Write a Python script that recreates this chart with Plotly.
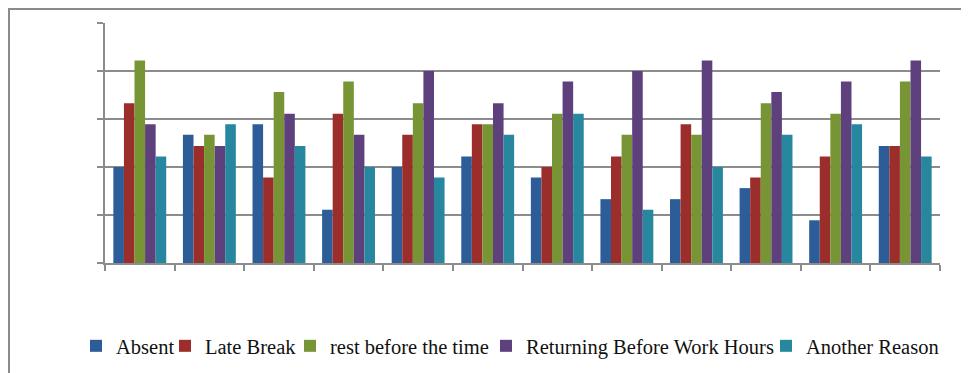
import plotly.graph_objects as go

categories = ["1", "2", "3", "4", "5", "6", "7", "8", "9", "10", "11", "12"]
absent = [20.0, 26.7, 28.9, 11.1, 20.0, 22.2, 17.8, 13.3, 13.3, 15.6, 8.9, 24.4]
late_break = [33.3, 24.4, 17.8, 31.1, 26.7, 28.9, 20.0, 22.2, 28.9, 17.8, 22.2, 24.4]
rest_before = [42.2, 26.7, 35.6, 37.8, 33.3, 28.9, 31.1, 26.7, 26.7, 33.3, 31.1, 37.8]
returning = [28.9, 24.4, 31.1, 26.7, 40.0, 33.3, 37.8, 40.0, 42.2, 35.6, 37.8, 42.2]
another = [22.2, 28.9, 24.4, 20.0, 17.8, 26.7, 31.1, 11.1, 20.0, 26.7, 28.9, 22.2]

series = [
    ("Absent", absent, "#2C5D98", 44),
    ("Late Break", late_break, "#9B2D2A", 80),
    ("rest before the time", rest_before, "#779535", 151),
    ("Returning Before Work Hours", returning, "#5E407C", 235),
    ("Another Reason", another, "#27879F", 136),
]

fig = go.Figure()
for name, vals, col, lw in series:
    fig.add_trace(go.Bar(x=categories, y=vals, name=name, marker_color=col,
                         marker_line_width=0, legendwidth=lw))

# page body has an 8px margin, so the figure is drawn 8px in from the window edge
OFF = 8
W, H = 969 - OFF, 373 - OFF
L, T = 105 - OFF, 23 - OFF
R = W - (940 - OFF)
B = H - (263 - OFF)
pw, ph = W - L - R, H - T - B

def px(x):
    return (x - OFF - L) / pw

def py(y):
    return (H - B - (y - OFF)) / ph

fig.update_layout(
    width=W, height=H,
    margin=dict(l=L, r=R, t=T, b=B, pad=0, autoexpand=False),
    paper_bgcolor="white", plot_bgcolor="white",
    barmode="group", bargap=0.24, bargroupgap=0,
    font=dict(family="Liberation Serif, Times New Roman, serif", size=20.5, color="#111111"),
    showlegend=True,
    legend=dict(orientation="h", xref="paper", yref="paper",
                x=px(76), y=py(346), xanchor="left", yanchor="middle",
                font=dict(size=20.5), itemwidth=30, bgcolor="rgba(0,0,0,0)",
                tracegroupgap=0),
    xaxis=dict(showticklabels=False, showline=True, linecolor="#8c8c8c", linewidth=2,
               ticks="outside", ticklen=6, tickcolor="#8c8c8c", tickwidth=2,
               tickson="boundaries", showgrid=False),
    yaxis=dict(range=[0, 50], dtick=10, showticklabels=False, showline=True,
               linecolor="#8c8c8c", linewidth=2, ticks="outside", ticklen=6,
               tickcolor="#8c8c8c", tickwidth=2, showgrid=True, gridcolor="#8c8c8c",
               gridwidth=2, zeroline=False),
    shapes=[dict(type="rect", xref="paper", yref="paper",
                 x0=px(9), x1=px(990), y0=py(400), y1=py(9),
                 line=dict(color="#8a8a8a", width=2), fillcolor="rgba(0,0,0,0)",
                 layer="below")],
)

fig.write_html("out.html")
